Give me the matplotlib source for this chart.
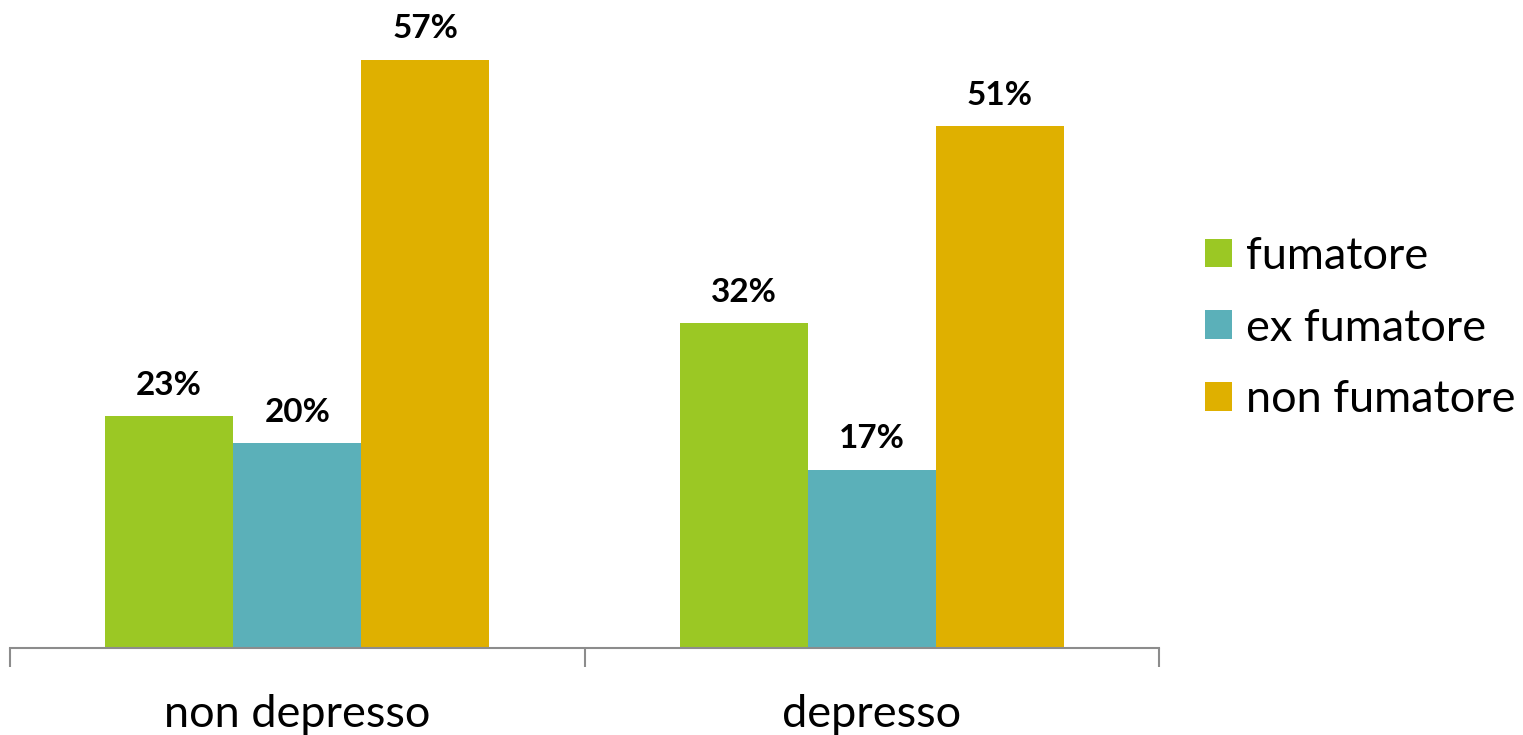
import numpy as np
import matplotlib
matplotlib.use('Agg')
import matplotlib.pyplot as plt

categories = ['non depresso', 'depresso']
series = ['fumatore', 'ex fumatore', 'non fumatore']
fumatore = [22.6, 31.7]
ex_fumatore = [20.0, 17.4]
non_fumatore = [57.4, 50.9]
colors = ['#9BC824', '#5BB0B9', '#DFB000']

plt.rcParams['font.family'] = ['Lato', 'DejaVu Sans']

fig = plt.figure(figsize=(15.23, 7.35), dpi=100)
ax = fig.add_axes([10 / 1523., 87 / 735., 1149 / 1523., 615 / 735.])

x = np.arange(len(categories))
width = 0.223
values = [fumatore, ex_fumatore, non_fumatore]
for i, (vals, name, c) in enumerate(zip(values, series, colors)):
    bars = ax.bar(x + (i - 1) * width, vals, width, color=c, label=name)
    for b, v in zip(bars, vals):
        ax.text(b.get_x() + b.get_width() / 2., v + 1.6, '%d%%' % round(v),
                ha='center', va='bottom', fontsize=24, fontweight='bold')

ax.set_xlim(-0.5, 1.5)
ax.set_ylim(0, 60)
for s in ['top', 'right', 'left']:
    ax.spines[s].set_visible(False)
ax.spines['bottom'].set_color('#8C8C8C')
ax.spines['bottom'].set_linewidth(1.5)
ax.set_yticks([])

ax.set_xticks(x)
ax.set_xticklabels(categories, fontsize=32.5)
ax.tick_params(axis='x', which='major', length=0, pad=33)
ax.set_xticks([-0.5, 0.5, 1.5], minor=True)
ax.tick_params(axis='x', which='minor', length=14, width=1.5, color='#8C8C8C')

ax.legend(loc='center left', bbox_to_anchor=(1205 / 1523., (735 - 328) / 735.),
          bbox_transform=fig.transFigure, frameon=False, fontsize=32.5,
          handlelength=0.6, handleheight=0.6, handletextpad=0.3,
          labelspacing=0.68, borderpad=0, borderaxespad=0)

fig.savefig('out.png', dpi=100)
